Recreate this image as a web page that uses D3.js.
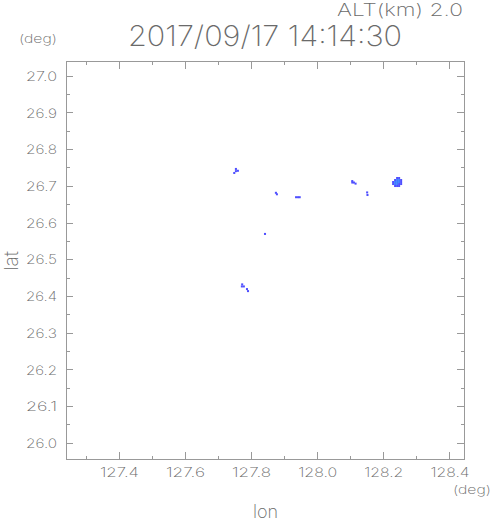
<!DOCTYPE html>
<html>
<head>
<meta charset="utf-8">
<script src="https://cdn.jsdelivr.net/npm/d3@7"></script>
<style>
  body { margin: 0; background: #fff; }
  text { font-family: Inter, "DejaVu Sans", sans-serif; font-weight: 200; fill: #6a6a6a; }
</style>
</head>
<body>
<div id="chart"></div>
<script>
const width = 491;
const height = 521;

// axis ticks (deg)
const lonTicks = [127.4, 127.6, 127.8, 128.0, 128.2, 128.4];
const lonMinor = [127.3, 127.5, 127.7, 127.9, 128.1, 128.3];
const latTicks = [26.0, 26.1, 26.2, 26.3, 26.4, 26.5, 26.6, 26.7, 26.8, 26.9, 27.0];
const latMinor = [26.05, 26.15, 26.25, 26.35, 26.45, 26.55, 26.65, 26.75, 26.85, 26.95];

// echo cells: lon, lat, level (1 = outer, 2 = core)
const echoLon = [
  127.754, 127.754, 127.760, 127.749,
  127.875, 127.878,
  127.936, 127.942, 127.947,
  128.106, 128.106, 128.111, 128.116,
  128.151, 128.152,
  128.2417, 128.2477,
  128.2356, 128.2417, 128.2477, 128.2538,
  128.2296, 128.2356, 128.2417, 128.2477, 128.2538,
  128.2296, 128.2356, 128.2417, 128.2477, 128.2538,
  128.2356, 128.2417, 128.2477,
  127.842,
  127.773, 127.772, 127.778,
  127.7875, 127.7906
];
const echoLat = [
  26.746, 26.740, 26.741, 26.735,
  26.681, 26.677,
  26.669, 26.669, 26.669,
  26.713, 26.709, 26.709, 26.706,
  26.682, 26.675,
  26.7213, 26.7213,
  26.7158, 26.7158, 26.7158, 26.7158,
  26.7104, 26.7104, 26.7104, 26.7104, 26.7104,
  26.7049, 26.7049, 26.7049, 26.7049, 26.7049,
  26.6995, 26.6995, 26.6995,
  26.569,
  26.4316, 26.4260, 26.4260,
  26.4188, 26.4133
];
const echoLevel = [
  1, 1, 1, 1,
  1, 1,
  1, 1, 1,
  1, 1, 1, 1,
  1, 1,
  1, 1,
  1, 2, 2, 1,
  1, 2, 2, 2, 1,
  1, 2, 2, 1, 1,
  1, 1, 1,
  1,
  1, 1, 1,
  1, 1
];
const cellLon = 0.0062;
const cellLat = 0.0055;

const title = "2017/09/17 14:14:30";
const altLabel = "ALT(km) 2.0";

const svg = d3.select("#chart")
  .append("svg")
  .attr("width", width)
  .attr("height", height);

const x = d3.scaleLinear().domain([127.24, 128.444]).range([66, 464]);
const y = d3.scaleLinear().domain([25.956, 27.04]).range([459, 61]);

const color = d3.scaleOrdinal().domain([1, 2]).range(["#4f4fff", "#3c7cff"]);

const cells = echoLon.map((d, i) => ({lon: d, lat: echoLat[i], level: echoLevel[i]}));

// echoes
svg.append("g")
  .selectAll("rect")
  .data(cells)
  .enter()
  .append("rect")
  .attr("x", d => x(d.lon - cellLon / 2))
  .attr("y", d => y(d.lat + cellLat / 2))
  .attr("width", d => x(d.lon + cellLon / 2) - x(d.lon - cellLon / 2))
  .attr("height", d => y(d.lat - cellLat / 2) - y(d.lat + cellLat / 2))
  .attr("fill", d => color(d.level));

// frame
svg.append("rect")
  .attr("x", x.range()[0])
  .attr("y", y.range()[1])
  .attr("width", x.range()[1] - x.range()[0])
  .attr("height", y.range()[0] - y.range()[1])
  .attr("fill", "none")
  .attr("stroke", "#999")
  .attr("shape-rendering", "crispEdges");

function styleAxis(g) {
  g.select(".domain").remove();
  g.selectAll("line").attr("stroke", "#999").attr("shape-rendering", "crispEdges");
}

// bottom axis (ticks inward)
svg.append("g")
  .attr("transform", `translate(0,${y.range()[0]})`)
  .call(d3.axisBottom(x).tickValues(lonTicks).tickSize(-7).tickPadding(10).tickFormat(d3.format(".1f")))
  .call(styleAxis)
  .call(g => g.selectAll("text")
    .attr("y", 18)
    .attr("dy", null)
    .style("font-size", "13px")
    .attr("textLength", 39)
    .attr("lengthAdjust", "spacingAndGlyphs")
    .attr("fill", "#6a6a6a"));
svg.append("g")
  .attr("transform", `translate(0,${y.range()[0]})`)
  .call(d3.axisBottom(x).tickValues(lonMinor).tickSize(-3).tickFormat(""))
  .call(styleAxis);

// top axis
svg.append("g")
  .attr("transform", `translate(0,${y.range()[1]})`)
  .call(d3.axisTop(x).tickValues(lonTicks).tickSize(-8).tickFormat(""))
  .call(styleAxis);
svg.append("g")
  .attr("transform", `translate(0,${y.range()[1]})`)
  .call(d3.axisTop(x).tickValues(lonMinor).tickSize(-4).tickFormat(""))
  .call(styleAxis);

// left axis
svg.append("g")
  .attr("transform", `translate(${x.range()[0]},0)`)
  .call(d3.axisLeft(y).tickValues(latTicks).tickSize(-7).tickPadding(9).tickFormat(d3.format(".1f")))
  .call(styleAxis)
  .call(g => g.selectAll("text")
    .style("font-size", "13px")
    .attr("dy", "0.36em")
    .attr("textLength", 31)
    .attr("lengthAdjust", "spacingAndGlyphs")
    .attr("fill", "#6a6a6a"));
svg.append("g")
  .attr("transform", `translate(${x.range()[0]},0)`)
  .call(d3.axisLeft(y).tickValues(latMinor).tickSize(-4).tickFormat(""))
  .call(styleAxis);

// right axis
svg.append("g")
  .attr("transform", `translate(${x.range()[1]},0)`)
  .call(d3.axisRight(y).tickValues(latTicks).tickSize(-7).tickFormat(""))
  .call(styleAxis);
svg.append("g")
  .attr("transform", `translate(${x.range()[1]},0)`)
  .call(d3.axisRight(y).tickValues(latMinor).tickSize(-3).tickFormat(""))
  .call(styleAxis);

// labels
svg.append("text")
  .attr("x", 128)
  .attr("y", 46)
  .attr("textLength", 274)
  .attr("lengthAdjust", "spacingAndGlyphs")
  .style("font-size", "28px")
  .text(title);

svg.append("text")
  .attr("x", 337)
  .attr("y", 16)
  .attr("textLength", 126)
  .attr("lengthAdjust", "spacingAndGlyphs")
  .style("font-size", "17px")
  .text(altLabel);

svg.append("text")
  .attr("x", 19)
  .attr("y", 43)
  .attr("textLength", 38)
  .attr("lengthAdjust", "spacingAndGlyphs")
  .style("font-size", "12px")
  .text("(deg)");

svg.append("text")
  .attr("x", 453)
  .attr("y", 494)
  .attr("textLength", 38)
  .attr("lengthAdjust", "spacingAndGlyphs")
  .style("font-size", "12px")
  .text("(deg)");

svg.append("text")
  .attr("x", 265.5)
  .attr("y", 518)
  .attr("text-anchor", "middle")
  .style("font-size", "18px")
  .text("lon");

svg.append("text")
  .attr("transform", "translate(18,261) rotate(-90)")
  .attr("text-anchor", "middle")
  .style("font-size", "19px")
  .text("lat");
</script>
</body>
</html>
